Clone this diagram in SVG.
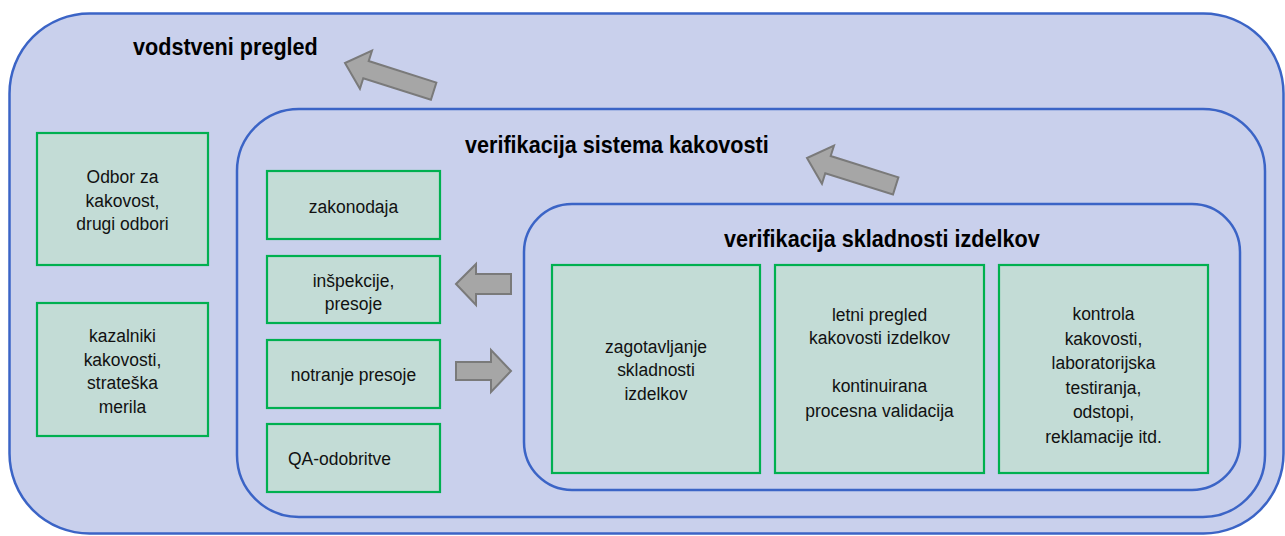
<svg xmlns="http://www.w3.org/2000/svg" width="1285" height="536" viewBox="0 0 1285 536">
  <style>
    .cont { fill: #C9D0EC; stroke: #3B64C6; stroke-width: 2.5; }
    .box { fill: #C3DCD6; stroke: #00B050; stroke-width: 2.2; }
    .title { font-family: "Liberation Sans", Arial, sans-serif; font-weight: bold; font-size: 24px; fill: #000; }
    .lbl { font-family: "Liberation Sans", Arial, sans-serif; font-size: 19px; fill: #111; text-anchor: middle; }
    .arr { fill: #A6A6A6; stroke: #7A7A7A; stroke-width: 2; stroke-linejoin: miter; }
  </style>
  <defs>
    <path id="diagArrow" d="M0,0 L-22,-20 L-22,-9 L-93,-9 L-93,9 L-22,9 L-22,20 Z"/>
  </defs>

  <g id="container-vodstveni">
    <rect class="cont" x="9.5" y="13.5" width="1274" height="520" rx="80" ry="80"/>
    <text class="title" x="133" y="55" transform="matrix(0.9 0 0 1 13.3 0)">vodstveni pregled</text>
  </g>

  <g id="odbor">
    <rect class="box" x="37" y="133" width="171" height="132"/>
    <text class="lbl" x="122.5" y="183" transform="matrix(0.92 0 0 1 9.8 0)">Odbor za<tspan x="122.5" dy="23.6">kakovost,</tspan><tspan x="122.5" dy="23.6">drugi odbori</tspan></text>
  </g>
  <g id="kazalniki">
    <rect class="box" x="37" y="303" width="171" height="133"/>
    <text class="lbl" x="122.5" y="342" transform="matrix(0.92 0 0 1 9.8 0)">kazalniki<tspan x="122.5" dy="23.7">kakovosti,</tspan><tspan x="122.5" dy="23.7">strateška</tspan><tspan x="122.5" dy="23.7">merila</tspan></text>
  </g>

  <g id="container-sistem">
    <rect class="cont" x="237" y="109" width="1028" height="408" rx="62" ry="62"/>
    <text class="title" x="465" y="153" transform="matrix(0.9 0 0 1 46.5 0)">verifikacija sistema kakovosti</text>
  </g>

  <g id="zakonodaja">
    <rect class="box" x="267" y="171" width="173" height="68"/>
    <text class="lbl" x="353.5" y="213" transform="matrix(0.92 0 0 1 28.28 0)">zakonodaja</text>
  </g>
  <g id="inspekcije">
    <rect class="box" x="267" y="256" width="173" height="67"/>
    <text class="lbl" x="353.5" y="287" transform="matrix(0.92 0 0 1 28.28 0)">inšpekcije,<tspan x="353.5" dy="23">presoje</tspan></text>
  </g>
  <g id="notranje">
    <rect class="box" x="267" y="340" width="173" height="68"/>
    <text class="lbl" x="353.5" y="381" transform="matrix(0.92 0 0 1 28.28 0)">notranje presoje</text>
  </g>
  <g id="qa">
    <rect class="box" x="267" y="424" width="173" height="68"/>
    <text class="lbl" x="288" y="465" style="text-anchor:start" transform="matrix(0.92 0 0 1 23.04 0)">QA-odobritve</text>
  </g>

  <g id="container-izdelki">
    <rect class="cont" x="524" y="204" width="716" height="286" rx="48" ry="48"/>
    <text class="title" x="724" y="247" transform="matrix(0.9 0 0 1 72.4 0)">verifikacija skladnosti izdelkov</text>
  </g>

  <g id="zagotavljanje">
    <rect class="box" x="552" y="265" width="208" height="208"/>
    <text class="lbl" x="656" y="353" transform="matrix(0.92 0 0 1 52.48 0)">zagotavljanje<tspan x="656" dy="23.5">skladnosti</tspan><tspan x="656" dy="23.5">izdelkov</tspan></text>
  </g>
  <g id="letni">
    <rect class="box" x="775" y="265" width="209" height="208"/>
    <text class="lbl" x="879.5" y="321" transform="matrix(0.92 0 0 1 70.36 0)">letni pregled<tspan x="879.5" dy="23.5">kakovosti izdelkov</tspan><tspan x="879.5" dy="48">kontinuirana</tspan><tspan x="879.5" dy="24.5">procesna validacija</tspan></text>
  </g>
  <g id="kontrola">
    <rect class="box" x="999" y="265" width="209" height="208"/>
    <text class="lbl" x="1103.5" y="320" transform="matrix(0.92 0 0 1 88.28 0)">kontrola<tspan x="1103.5" dy="24.6">kakovosti,</tspan><tspan x="1103.5" dy="24.6">laboratorijska</tspan><tspan x="1103.5" dy="24.6">testiranja,</tspan><tspan x="1103.5" dy="24.6">odstopi,</tspan><tspan x="1103.5" dy="24.6">reklamacije itd.</tspan></text>
  </g>

  <g id="connectors">
    <use href="#diagArrow" class="arr" transform="translate(345,63) rotate(197.6)"/>
    <use href="#diagArrow" class="arr" transform="translate(807,158) rotate(197.5)"/>
    <polygon class="arr" points="456,284 476,264 476,274 511,274 511,294 476,294 476,305"/>
    <polygon class="arr" points="511,371 491,350 491,362 456,362 456,380 491,380 491,392"/>
  </g>
</svg>
